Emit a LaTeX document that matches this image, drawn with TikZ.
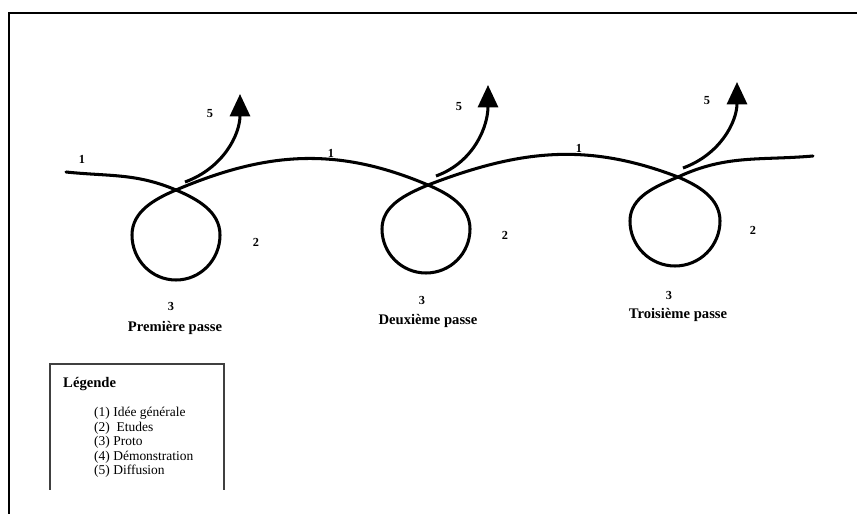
\documentclass[tikz,border=0pt]{standalone}
\usepackage{fontspec}
\setmainfont{Liberation Serif}
\usetikzlibrary{arrows.meta}

\tikzset{
  fil/.style={line width=2.6pt, line cap=round},
  sortie/.style={line width=2.6pt, -{Triangle[length=19pt,width=17pt]}},
  num/.style={font=\bfseries\fontsize{10.5}{12}\selectfont, inner sep=0pt},
  passe/.style={font=\bfseries\fontsize{12.5}{14}\selectfont, inner sep=0pt},
  legitem/.style={font=\fontsize{11.5}{12}\selectfont, inner sep=0pt, anchor=base west},
}

\begin{document}
\begin{tikzpicture}[x=0.03cm, y=-0.03cm]
  \useasboundingbox (0,0) rectangle (857,514);
  % cadre
  \draw[line width=1.7pt] (9,514) -- (9,13) -- (857,13);

  % points du fil
  \coordinate (debut) at (66,172);
  \coordinate (x1) at (176,190);
  \coordinate (d1) at (220,235); \coordinate (b1) at (176,280); \coordinate (g1) at (132,235);
  \coordinate (x2) at (428,185);
  \coordinate (d2) at (470,229); \coordinate (b2) at (426,273); \coordinate (g2) at (382,229);
  \coordinate (x3) at (678,177);
  \coordinate (d3) at (720,221); \coordinate (b3) at (675,266); \coordinate (g3) at (630,221);
  \coordinate (fin) at (813,156);

  % le fil avec ses trois boucles
  \draw[fil] (debut) to[out=-6,in=157] (x1)
    to[out=-23,in=90,looseness=0.95] (d1) to[out=-90,in=0] (b1) to[out=180,in=-90] (g1) to[out=90,in=-157,looseness=0.95] (x1)
    to[out=23,in=157] (x2)
    to[out=-23,in=90,looseness=0.95] (d2) to[out=-90,in=0] (b2) to[out=180,in=-90] (g2) to[out=90,in=-157,looseness=0.95] (x2)
    to[out=21,in=159] (x3)
    to[out=-23,in=90,looseness=0.95] (d3) to[out=-90,in=0] (b3) to[out=180,in=-90] (g3) to[out=90,in=-157,looseness=0.95] (x3)
    to[out=25,in=185] (fin);

  % sorties (5)
  \coordinate (s1) at (185,182); \coordinate (t1) at (240,94);
  \coordinate (s2) at (436,176); \coordinate (t2) at (488,85);
  \coordinate (s3) at (683,168); \coordinate (t3) at (737,82);
  \draw[sortie] (s1) to[out=20,in=-90] (t1);
  \draw[sortie] (s2) to[out=20,in=-90] (t2);
  \draw[sortie] (s3) to[out=20,in=-90] (t3);

  % chiffres
  \node[num] (un1) at (82,159) {1};
  \node[num] (un2) at (331,153) {1};
  \node[num] (un3) at (579,148) {1};
  \node[num] (cinq1) at (210,114) {5};
  \node[num] (cinq2) at (459,107) {5};
  \node[num] (cinq3) at (707,101) {5};
  \node[num] (deux1) at (256,242) {2};
  \node[num] (deux2) at (505,235) {2};
  \node[num] (deux3) at (753,230) {2};
  \node[num] (trois1) at (171,306) {3};
  \node[num] (trois2) at (422,300) {3};
  \node[num] (trois3) at (669,295) {3};

  % passes
  \node[passe] (p1) at (175,328) {Première passe};
  \node[passe] (p2) at (428,321) {Deuxième passe};
  \node[passe] (p3) at (678,315) {Troisième passe};

  % legende
  \draw[line width=1.1pt, black!75] (50,490) -- (50,364) -- (224,364) -- (224,490);
  \node[font=\bfseries\fontsize{12.5}{14}\selectfont, inner sep=0pt, anchor=base west] (leg) at (63,388) {Légende};
  \node[legitem] (l1) at (94,417) {(1) Idée générale};
  \node[legitem] (l2) at (94,431.5) {(2)~~Etudes};
  \node[legitem] (l3) at (94,446) {(3) Proto};
  \node[legitem] (l4) at (94,460.5) {(4) Démonstration};
  \node[legitem] (l5) at (94,475) {(5) Diffusion};
\end{tikzpicture}
\end{document}
